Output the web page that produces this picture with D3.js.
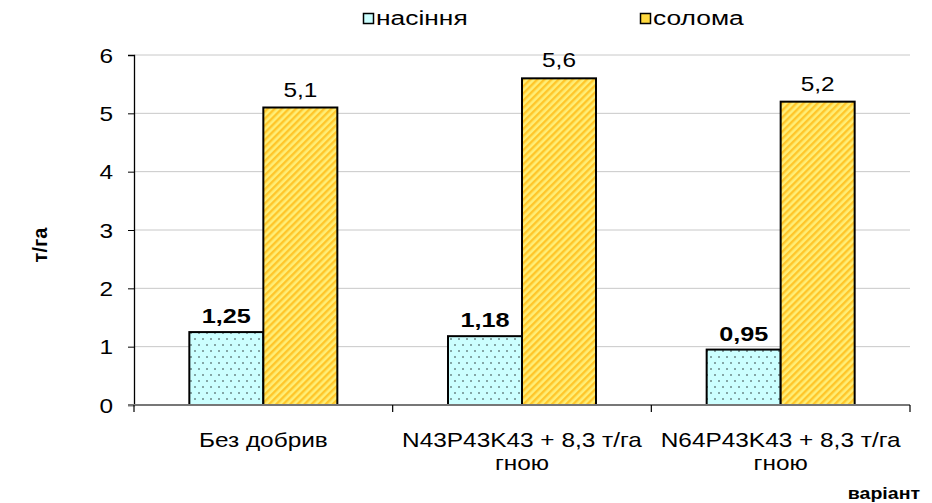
<!DOCTYPE html>
<html>
<head>
<meta charset="utf-8">
<script src="https://cdn.jsdelivr.net/npm/d3@7"></script>
<style>
  html, body { margin: 0; padding: 0; background: #fff; }
  svg { display: block; font-family: Arial, "Liberation Sans", sans-serif; }
</style>
</head>
<body>
<svg id="chart" width="932" height="503"></svg>
<script>
// Yield data: seeds and straw, t/ha, per fertilizer variant
const categories = [
  ["Без добрив"],
  ["N43P43K43 + 8,3 т/га", "гною"],
  ["N64P43K43 + 8,3 т/га", "гною"]
];
const seriesNames = ["насіння", "солома"];
const seedValues = [1.25, 1.18, 0.95];
const strawValues = [5.1, 5.6, 5.2];
const seedLabels = ["1,25", "1,18", "0,95"];
const strawLabels = ["5,1", "5,6", "5,2"];
const yTicks = [0, 1, 2, 3, 4, 5, 6];

const svg = d3.select("#chart");
const margin = { left: 134, right: 22, top: 55, bottom: 98 };
const W = 932, H = 503;
const plotW = W - margin.left - margin.right;
const plotH = H - margin.top - margin.bottom;
const SX = 1.22; // wide lettering

// place a text at (x, y) with horizontal widening
function wide(sel, x, y, sx) {
  return sel.attr("transform", (d, i) => {
    const px = typeof x === "function" ? x(d, i) : x;
    const py = typeof y === "function" ? y(d, i) : y;
    return `translate(${px},${py}) scale(${sx || SX},1)`;
  });
}

// Fill patterns
const defs = svg.append("defs");
const dots = defs.append("pattern")
  .attr("id", "dots").attr("patternUnits", "userSpaceOnUse")
  .attr("width", 16).attr("height", 12);
dots.append("rect").attr("width", 16).attr("height", 12).attr("fill", "#ccffff");
[[3, 3], [11, 3], [7, 9], [15, 9]].forEach(([cx, cy]) => {
  dots.append("rect").attr("x", cx - 0.7).attr("y", cy - 0.7)
    .attr("width", 1.4).attr("height", 1.4).attr("fill", "#3a4a4a");
});

const stripes = defs.append("pattern")
  .attr("id", "stripes").attr("patternUnits", "userSpaceOnUse")
  .attr("width", 5).attr("height", 5)
  .attr("patternTransform", "rotate(45)");
stripes.append("rect").attr("width", 5).attr("height", 5).attr("fill", "#ffee77");
stripes.append("rect").attr("width", 2.4).attr("height", 5).attr("fill", "#ffc62a");

const fills = ["url(#dots)", "url(#stripes)"];

const x0 = d3.scaleBand()
  .domain(d3.range(categories.length))
  .range([margin.left, margin.left + plotW])
  .paddingInner(0).paddingOuter(0);
const barW = 74;
const y = d3.scaleLinear().domain([0, 6]).range([margin.top + plotH, margin.top]);

// Gridlines
svg.append("g").selectAll("line").data(yTicks.filter(d => d > 0)).join("line")
  .attr("x1", margin.left).attr("x2", margin.left + plotW)
  .attr("y1", d => y(d)).attr("y2", d => y(d))
  .attr("stroke", "#c8c8c8").attr("stroke-width", 1);

// Bars
const series = [seedValues, strawValues];
series.forEach((vals, si) => {
  svg.append("g").selectAll("rect").data(vals).join("rect")
    .attr("x", (d, i) => x0(i) + x0.bandwidth() / 2 - barW + si * barW)
    .attr("y", d => y(d))
    .attr("width", barW)
    .attr("height", d => y(0) - y(d))
    .attr("fill", fills[si])
    .attr("stroke", "#000").attr("stroke-width", 2);
});

// Value labels
wide(svg.append("g").selectAll("text").data(seedValues).join("text"),
  (d, i) => x0(i) + x0.bandwidth() / 2 - barW / 2, d => y(d) - 9, 1.2)
  .attr("text-anchor", "middle").attr("font-size", 21).attr("font-weight", "bold")
  .text((d, i) => seedLabels[i]);
wide(svg.append("g").selectAll("text").data(strawValues).join("text"),
  (d, i) => x0(i) + x0.bandwidth() / 2 + barW / 2, d => y(d) - 11)
  .attr("text-anchor", "middle").attr("font-size", 20)
  .text((d, i) => strawLabels[i]);

// Y axis
const yAxis = svg.append("g").attr("transform", `translate(${margin.left},0)`)
  .call(d3.axisLeft(y).tickValues(yTicks).tickSize(6).tickFormat(d3.format("d")));
yAxis.select(".domain").attr("stroke", "#000").attr("stroke-width", 1.3);
yAxis.selectAll(".tick line").attr("stroke", "#000");
yAxis.selectAll(".tick text")
  .attr("x", null).attr("dy", "0.36em")
  .attr("transform", `translate(-21,0) scale(${SX},1)`)
  .attr("font-size", 20).attr("fill", "#000")
  .attr("font-family", "Arial, 'Liberation Sans', sans-serif");

// X axis baseline and category ticks
svg.append("line")
  .attr("x1", margin.left - 6).attr("x2", margin.left + plotW)
  .attr("y1", y(0)).attr("y2", y(0))
  .attr("stroke", "#777").attr("stroke-width", 2);
const bounds = d3.range(categories.length + 1).map(i => margin.left + i * x0.bandwidth());
svg.append("g").selectAll("line").data(bounds).join("line")
  .attr("x1", d => d).attr("x2", d => d)
  .attr("y1", y(0)).attr("y2", y(0) + 7)
  .attr("stroke", "#000").attr("stroke-width", 1.2);

// Category labels
const catG = svg.append("g").selectAll("g").data(categories).join("g")
  .attr("transform", (d, i) => `translate(${x0(i) + x0.bandwidth() / 2},447) scale(${SX},1)`);
catG.selectAll("text").data(d => d).join("text")
  .attr("x", 0).attr("y", (d, i) => i * 23)
  .attr("text-anchor", "middle").attr("font-size", 20)
  .text(d => d);

// Axis titles
svg.append("text")
  .attr("transform", `translate(47,245) rotate(-90)`)
  .attr("text-anchor", "middle").attr("font-size", 20).attr("font-weight", "bold")
  .text("т/га");
wide(svg.append("text"), 920, 499, 1.15)
  .attr("text-anchor", "end").attr("font-size", 17).attr("font-weight", "bold")
  .text("варіант");

// Legend
const legendX = [363, 640];
const legend = svg.append("g").selectAll("g").data(seriesNames).join("g")
  .attr("transform", (d, i) => `translate(${legendX[i]},12)`);
legend.append("rect").attr("x", 0.5).attr("y", 1.5).attr("width", 10).attr("height", 10)
  .attr("fill", (d, i) => i === 0 ? "#ccffff" : "#ffd93f").attr("stroke", "#000").attr("stroke-width", 1.5);
wide(legend.append("text"), 13, 13, 1.32).attr("font-size", 20).text(d => d);
</script>
</body>
</html>
